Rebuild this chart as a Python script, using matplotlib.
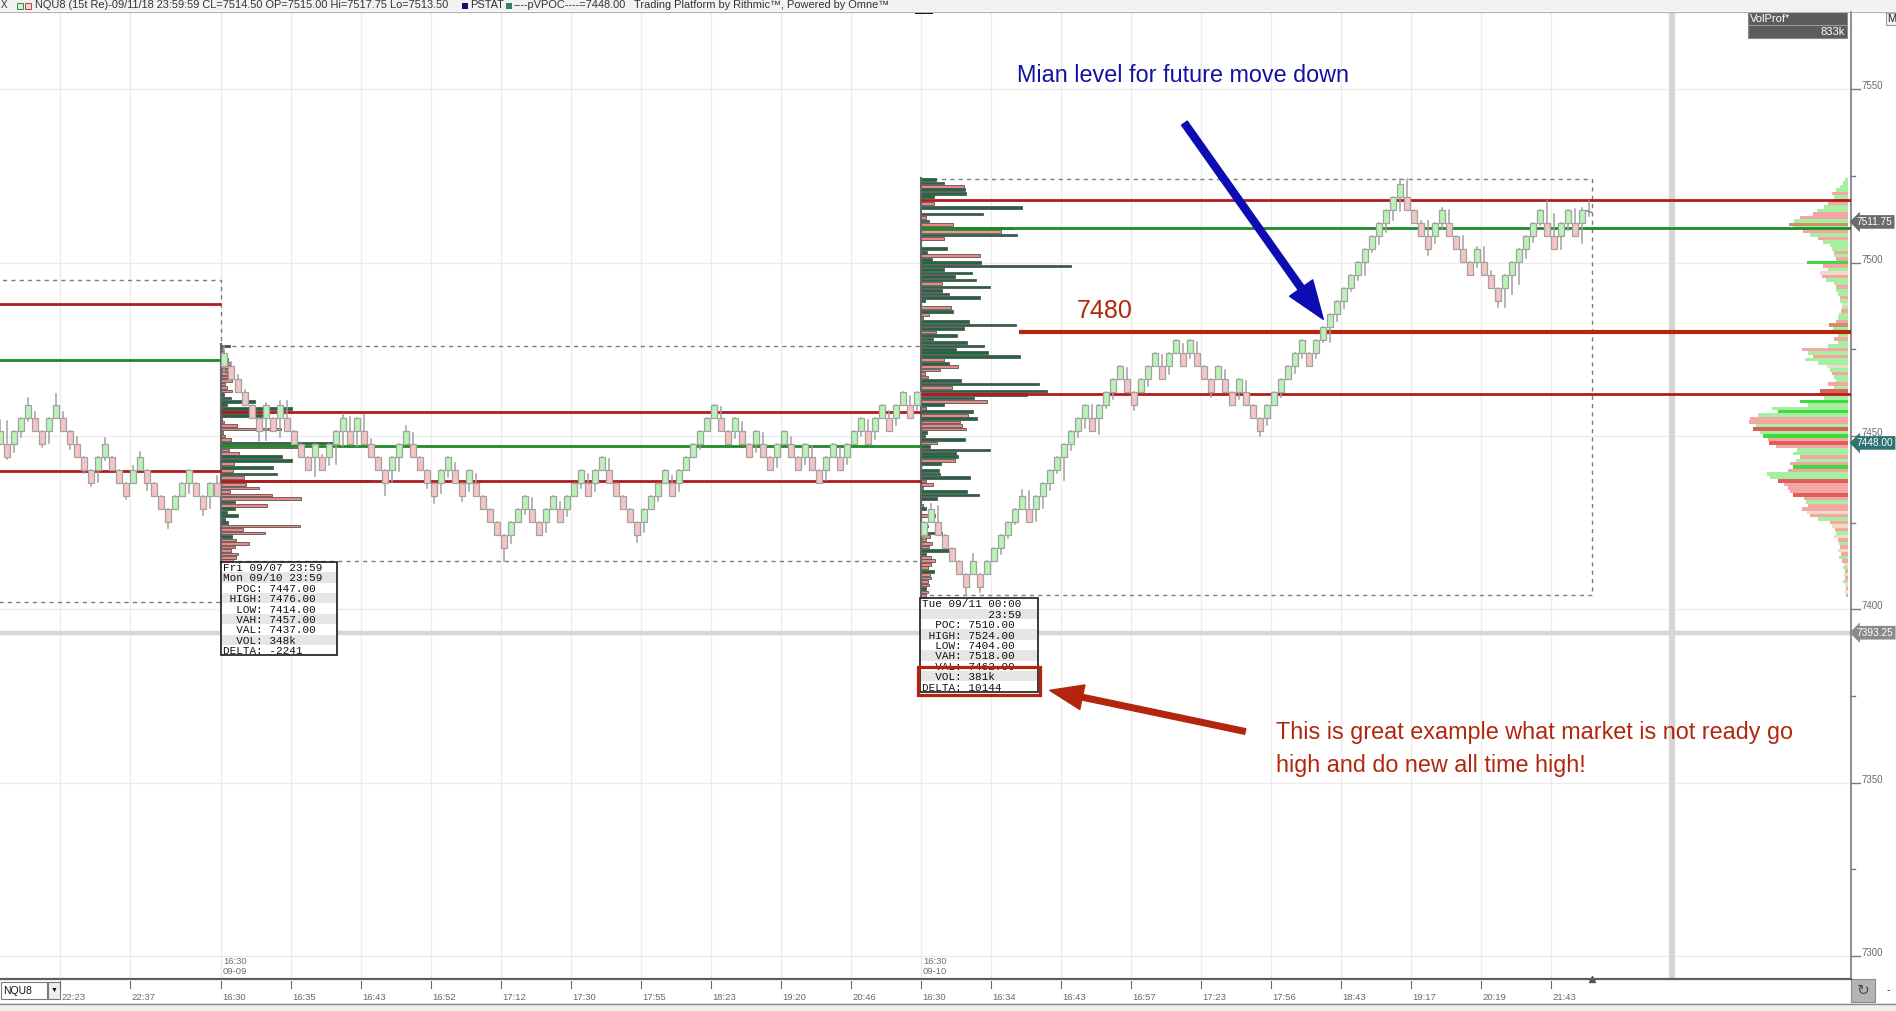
import numpy as np
import matplotlib.pyplot as plt
from matplotlib.patches import Rectangle, FancyArrowPatch

plt.rcParams['font.family'] = ['Liberation Sans', 'DejaVu Sans']

W, H = 1896, 1011
PLOT_RIGHT = 1851          # pixel x of the price scale
PLOT_TOP, PLOT_BOTTOM = 12, 979

# ---------------- data ----------------
BASE = 7447.75             # renko grid reference price
BRICK = 3.75               # 15 ticks per brick

# time scale (bar index -> label)
tick_pos = [-23, -13, 0, 10, 20, 30, 40, 50, 60, 70, 80, 90,
            100, 110, 120, 130, 140, 150, 160, 170, 180, 190]
tick_lbl = ['22:23', '22:37', '16:30', '16:35', '16:43', '16:52', '17:12', '17:30', '17:55', '18:23', '19:20', '20:46',
            '16:30', '16:34', '16:43', '16:57', '17:23', '17:56', '18:43', '19:17', '20:19', '21:43']
price_ticks = [7300, 7350, 7400, 7450, 7500, 7550]

# session 0 (tail only), bars -32..-1 : brick bottom level, colour, wicks (points)
s0_levels = [0, -1, 0, 1, 2, 1, 0, 1, 2, 1,
             0, -1, -2, -3, -2, -1, -2, -3, -4, -3,
             -2, -3, -4, -5, -6, -5, -4, -3, -4, -5,
             -4, -4]
s0_colors = "grgggrrggr" + "rrrrggrrrg" + "grrrrgggrr" + "gr"
s0_wick_up = [3.2, 6.5, 0, 0, 1.9, 1.6, 0, 0, 3.1, 1.6,
              0, 2.0, 0, 0, 0, 1.6, 0, 0, 0, 1.0,
              1.5, 0, 0, 0, 0, 0, 0, 0, 0, 0,
              0, 2.0]
s0_wick_dn = [0, 0.7, 2.4, 1.7, 0.8, 0, 1.0, 3.5, 0, 0,
              1.5, 0, 1.0, 0.8, 3.5, 1.0, 0, 0, 1.0, 0,
              0, 2.0, 0, 0, 1.7, 0, 0, 3.0, 0, 1.9,
              3.4, 0]

# session 1 (09/07-09/10), bars 0..99
s1_levels = [6, 5, 4, 3, 2, 1, 2, 1, 2, 1,
             0, -1, -2, -1, -2, -1, 0, 1, 0, 1,
             0, -1, -2, -3, -2, -1, 0, -1, -2, -3,
             -4, -3, -2, -3, -4, -3, -4, -5, -6, -7,
             -8, -7, -6, -5, -6, -7, -6, -5, -6, -5,
             -4, -3, -4, -3, -2, -3, -4, -5, -6, -7,
             -6, -5, -4, -3, -4, -3, -2, -1, 0, 1,
             2, 1, 0, 1, 0, -1, 0, -1, -2, -1,
             0, -1, -2, -1, -2, -3, -2, -1, -2, -1,
             0, 1, 0, 1, 2, 1, 2, 3, 2, 3]
s1_colors = ("grrrrrgrgr" + "rrrgrgggrg" + "rrrrgggrrr" + "rggrrgrrrr" +
             "rgggrrggrg" + "ggrggrrrrr" + "ggggrggggg" + "grrgrrgrrg" +
             "grrgrrggrg" + "ggrggrggrg")
s1_wick_up = [2.0, 1.2, 1.0, 0.5, 0, 0, 0.6, 0, 1.0, 4.8,
              0, 0, 0, 0, 0.5, 0, 0, 1.0, 4.1, 0,
              4.5, 1.5, 0, 0, 0, 0, 1.5, 3.0, 0, 0,
              0, 0, 0, 2.0, 0, 0, 2.5, 0, 0, 0,
              0, 0, 0, 0, 3.0, 0, 0, 0, 2.0, 0,
              0, 0, 2.5, 0, 0, 3.0, 0, 0, 0, 0,
              0, 0, 0, 0, 2.0, 0, 0, 0, 0, 0,
              0, 3.0, 0, 0, 2.5, 0, 0, 3.0, 0, 0,
              0, 2.0, 0, 0, 3.0, 0, 0, 0, 2.5, 0,
              0, 0, 3.0, 0, 0, 2.0, 0, 0, 2.5, 0]
s1_wick_dn = [2.4, 0.5, 0, 0, 0, 2.9, 6.5, 0, 5.6, 0,
              0, 0, 0, 5.5, 0, 2.3, 5.8, 4.3, 0, 4.3,
              0, 0, 0, 3.4, 3.6, 4.0, 0, 0, 0, 1.5,
              2.0, 3.0, 2.0, 0, 1.5, 2.5, 0, 0, 0, 0,
              3.75, 2.5, 0, 1.5, 0, 0, 3.0, 0, 0, 2.0,
              0, 1.5, 0, 2.5, 0, 0, 0, 0, 0, 2.0,
              3.0, 0, 1.5, 0, 0, 2.5, 0, 0, 1.5, 0,
              0, 0, 0, 2.0, 0, 0, 2.5, 0, 0, 3.0,
              0, 0, 0, 2.0, 0, 0, 3.0, 0, 0, 2.0,
              0, 1.5, 0, 2.5, 0, 0, 2.0, 0, 0, 1.5]

# session 2 (09/11), bars 100..194
s2_levels = [-7, -6, -7, -8, -9, -10, -11, -10, -11, -10,
             -9, -8, -7, -6, -5, -6, -5, -4, -3, -2,
             -1, 0, 1, 2, 1, 2, 3, 4, 5, 4,
             3, 4, 5, 6, 5, 6, 7, 6, 7, 6,
             5, 4, 5, 4, 3, 4, 3, 2, 1, 2,
             3, 4, 5, 6, 7, 6, 7, 8, 9, 10,
             11, 12, 13, 14, 15, 16, 17, 18, 19, 18,
             17, 16, 15, 16, 17, 16, 15, 14, 13, 14,
             13, 12, 11, 12, 13, 14, 15, 16, 17, 16,
             15, 16, 17, 16, 17]
s2_colors = ("ggrrrrrgrg" + "gggggrgggg" + "ggggrggggr" + "rgggrggrgr" +
             "rrgrrgrrrg" + "gggggrgggg" + "gggggggggr" + "rrrggrrrrg" +
             "rrrggggggr" + "rggrg")
s2_wick_up = [0, 1.4, 4.5, 0, 0, 0, 0, 2.0, 0, 0,
              0, 0, 0, 0, 1.6, 5.0, 0, 0, 0, 0,
              0, 0, 0, 0, 3.8, 0, 0, 0, 0, 3.0,
              0, 0, 0, 0, 3.0, 0, 0, 2.5, 0, 3.0,
              0, 0, 0, 2.5, 0, 0, 3.0, 0, 0, 0,
              0, 0, 0, 0, 0, 0, 0, 0, 0, 0,
              0, 0, 0, 0, 0, 0, 0, 0, 1.25, 5.0,
              0, 0.5, 4.3, 0, 0.4, 3.8, 0, 3.6, 0, 0.6,
              4.3, 1.0, 0, 0, 0, 0, 0, 0, 0, 6.3,
              6.3, 0, 0, 4.0, 0.4]
s2_wick_dn = [1.2, 0, 0, 0, 0, 0, 2.5, 0, 1.5, 0,
              0, 1.7, 1.0, 0.5, 0, 0, 3.4, 3.4, 2.2, 0.8,
              6.7, 1.7, 1.9, 2.9, 0, 4.6, 0.9, 2.0, 0, 0,
              1.5, 0, 2.0, 0, 0, 2.5, 0, 0, 1.5, 0,
              0, 1.5, 0, 0, 0, 2.0, 0, 0, 1.5, 2.0,
              0, 1.5, 0, 2.0, 1.5, 0, 1.5, 0.5, 4.5, 2.0,
              2.0, 0.8, 1.5, 3.8, 1.0, 2.4, 2.7, 2.9, 4.0, 0,
              0, 0, 1.9, 2.0, 1.7, 0, 0, 0, 0, 1.6,
              0, 0, 1.7, 5.5, 5.4, 6.4, 2.6, 1.9, 0.5, 0,
              0, 3.8, 2.0, 0, 5.8]
# last (unfinished) bar from the header
last_open, last_close, last_hi, last_lo = 7515.00, 7514.50, 7517.75, 7513.50

# session levels: VAH, POC, VAL, HIGH, LOW
s0_vah, s0_poc, s0_val, s0_high, s0_low = 7488, 7472, 7440, 7495, 7402
s1_vah, s1_poc, s1_val, s1_high, s1_low = 7457, 7447, 7437, 7476, 7414
s2_vah, s2_poc, s2_val, s2_high, s2_low = 7518, 7510, 7462, 7524, 7404
key_level = 7480
last_price = 7393.25

# session volume profiles (1 pt rows from HIGH downwards), arbitrary volume units
s1_vol = [27, 5, 8, 10, 22, 27, 30, 34, 17, 17,
          32, 12, 17, 32, 9, 30, 102, 17, 212, 97,
          122, 4, 9, 49, 179, 5, 12, 29, 355, 237,
          25, 55, 182, 212, 40, 155, 37, 169, 70, 449,
          74, 115, 27, 152, 239, 42, 137, 43, 17, 50,
          12, 21, 236, 67, 131, 32, 44, 85, 42, 30,
          52, 46, 35]
s1_side = "GkRRRRRRRR" + "RRRRGGGGGG" + "GkRRRkRRGT" + "RRGGRGRGRR" + "RRRRRGRGGG" + "GGRRRGRRRR" + "RRR"
s2_vol = [44, 70, 130, 132, 134, 40, 5, 40, 302, 0,
          185, 15, 25, 97, 275, 240, 287, 70, 0, 0,
          77, 17, 178, 32, 179, 449, 70, 152, 103, 164,
          64, 206, 62, 83, 176, 11, 0, 89, 97, 25,
          7, 143, 284, 130, 44, 107, 37, 137, 188, 104,
          200, 296, 70, 83, 112, 56, 12, 22, 119, 353,
          94, 377, 317, 160, 197, 68, 14, 155, 142, 167,
          118, 122, 134, 19, 11, 131, 49, 27, 206, 104,
          110, 103, 59, 0, 55, 57, 148, 15, 37, 7,
          137, 175, 49, 0, 7, 14, 0, 43, 0, 0,
          22, 0, 62, 27, 15, 34, 25, 85, 15, 29,
          42, 30, 20, 40, 27, 30, 22, 25, 15, 20,
          15]
s2_side = ("GGRGGGkRGk" + "GRGRGTGRkk" + "GGRGGGGGGG" + "RGGGGGkRGR" + "kGGGRGGGGG" +
           "GGRGRRRRGG" + "RGGGRGkGRG" + "RRRGGGRGGG" + "GRGkGGGRRk" + "GGGkkGkRkk" +
           "GkGRRRRGGR" + "RRRGRRRRGR" + "R")
S_VOL_SCALE = 21.0          # volume units per bar width

# composite profile at the right edge (1 pt rows from 7524 down, pixels)
comp_top = 7524
comp_len = [3, 5, 8, 12, 16, 14, 16, 20, 24, 31,
            35, 48, 54, 59, 55, 45, 38, 30, 25, 18,
            16, 14, 14, 12, 41, 25, 20, 28, 26, 22,
            14, 12, 12, 10, 8, 8, 6, 6, 7, 9,
            10, 12, 19, 15, 12, 10, 14, 10, 20, 46,
            40, 35, 43, 30, 21, 18, 16, 14, 12, 20,
            14, 28, 30, 24, 48, 40, 76, 70, 90, 98,
            99, 92, 95, 88, 85, 80, 79, 72, 51, 55,
            48, 52, 58, 55, 60, 81, 78, 70, 64, 60,
            58, 55, 44, 42, 40, 46, 41, 38, 30, 18,
            16, 13, 12, 14, 10, 9, 8, 10, 7, 9,
            6, 4, 5, 3, 4, 3, 5, 3, 2, 3,
            2]
comp_col = ("ggggrgorgg" + "rrgogrgrgg" + "grgrGrgbrg" + "grggrgbgrg" + "grogggrggr" +
            "grggbgrggr" + "gRggGggGgr" + "rgRgGrRrgg" + "rgrGrggRrr" + "rRrgrrbrgr" +
            "brgbrgrbrg" + "rbgrbrgbrbr")

# info boxes
s1_info = ["Fri 09/07 23:59", "Mon 09/10 23:59", "  POC: 7447.00", " HIGH: 7476.00",
           "  LOW: 7414.00", "  VAH: 7457.00", "  VAL: 7437.00", "  VOL: 348k", "DELTA: -2241"]
s2_info = ["Tue 09/11 00:00", "          23:59", "  POC: 7510.00", " HIGH: 7524.00",
           "  LOW: 7404.00", "  VAH: 7518.00", "  VAL: 7462.00", "  VOL: 381k", "DELTA: 10144"]

# ---------------- styling ----------------
RED_LINE = '#b01c1c'
GRN_LINE = '#1f8a26'
C_UP, C_DN, C_EDGE, C_WICK = '#b9f3b6', '#f7c4c4', '#a2a2a2', '#a0a0a0'
PROF = {'G': '#1d6a40', 'R': '#ee8682', 'T': '#d6a57a', 'k': '#8a8a8a'}
COMP = {'g': '#a6eea0', 'G': '#3edb3e', 'r': '#f4a6a4', 'R': '#e05e5a', 'b': '#eddcc6', 'o': '#cf8f6a'}
ANN_RED = '#b3260d'
ANN_BLUE = '#12129e'


def fx(px):
    return px / W


def fy(py):
    return 1 - py / H


fig = plt.figure(figsize=(W / 100, H / 100), dpi=100)
ax = fig.add_axes([0, fy(PLOT_BOTTOM), PLOT_RIGHT / W, (PLOT_BOTTOM - PLOT_TOP) / H])
ax.set_xlim(-221 / 7, (PLOT_RIGHT - 221) / 7)
ax.set_ylim(7293.37, 7572.3)
for s in ax.spines.values():
    s.set_visible(False)
ax.set_xticks([])
ax.set_yticks([])

# grid
for t in tick_pos:
    ax.axvline(t, color='#ececec', lw=1, zorder=0)
for p in price_ticks:
    ax.axhline(p, color='#ececec', lw=1, zorder=0)

# thick grey markers (last price line and a vertical separator)
ax.axhline(last_price, color='#d6d6d6', lw=3.2, zorder=1)
ax.axvline(207.3, color='#d6d6d6', lw=4.5, zorder=1)


def session_box(x0, x1, lo, hi):
    ax.plot([x0, x1, x1, x0, x0], [lo, lo, hi, hi, lo], color='#7c7c7c', lw=1,
            ls=(0, (3, 3)), zorder=2)


def level(x0, x1, p, c, lw=2.0):
    ax.plot([x0, x1], [p, p], color=c, lw=lw, zorder=4, solid_capstyle='butt')


def profile(x0, top, vols, sides):
    prices = top - np.arange(len(vols))
    ax.barh(prices, np.array(vols) / S_VOL_SCALE, left=x0, height=0.78,
            color=[PROF[c] for c in sides], edgecolor='#555555', lw=0.6, zorder=3)
    ax.plot([x0, x0], [top - len(vols) + 0.5, top + 0.5], color='#666666', lw=1.5, zorder=3)


def candles(x0, levels, colors, wup, wdn):
    for i, (lv, c) in enumerate(zip(levels, colors)):
        x = x0 + i + 0.43
        lo = BASE + lv * BRICK
        hi = lo + BRICK
        ax.plot([x, x], [lo - wdn[i], hi + wup[i]], color=C_WICK, lw=1.1, zorder=6)
        ax.add_patch(Rectangle((x - 0.36, lo), 0.72, BRICK, fc=C_UP if c == 'g' else C_DN,
                               ec=C_EDGE, lw=0.9, zorder=7))


# session boxes and value-area lines
session_box(-40, 0, s0_low, s0_high)
session_box(0, 100, s1_low, s1_high)
session_box(100, 195.9, s2_low, s2_high)
xr = (PLOT_RIGHT - 221) / 7
level(-40, 0, s0_vah, RED_LINE)
level(-40, 0, s0_poc, GRN_LINE)
level(-40, 0, s0_val, RED_LINE)
level(0, 100, s1_vah, RED_LINE)
level(0, 100, s1_poc, GRN_LINE)
level(0, 100, s1_val, RED_LINE)
level(100, xr, s2_vah, RED_LINE)
level(100, xr, s2_poc, GRN_LINE)
level(100, xr, s2_val, RED_LINE)
level(114, xr, key_level, '#b4260e', lw=3.0)

# profiles
assert len(s1_vol) == len(s1_side) == s1_high - s1_low + 1
assert len(s2_vol) == len(s2_side) == s2_high - s2_low + 1
assert len(s1_levels) == len(s1_colors) == 100 and len(s2_levels) == len(s2_colors) == 95
profile(0, s1_high, s1_vol, s1_side)
profile(100, s2_high, s2_vol, s2_side)

comp_prices = comp_top - np.arange(len(comp_len))
x_comp = (1848 - 221) / 7
ax.barh(comp_prices, -np.array(comp_len) / 7, left=x_comp, height=1.0,
        color=[COMP[c] for c in comp_col], lw=0, zorder=3)

# candles
candles(-32, s0_levels, s0_colors, s0_wick_up, s0_wick_dn)
candles(0, s1_levels, s1_colors, s1_wick_up, s1_wick_dn)
candles(100, s2_levels, s2_colors, s2_wick_up, s2_wick_dn)
xl = 195 + 0.43
ax.plot([xl, xl], [last_lo, last_hi], color=C_WICK, lw=1.1, zorder=6)
ax.plot([xl - 0.36, xl + 0.36], [last_open, last_close], color='#909090', lw=1.2, zorder=7)


def info_box(x0, top, lines, width):
    row = 3.0
    for i, t in enumerate(lines):
        y = top - (i + 1) * row
        ax.add_patch(Rectangle((x0, y), width, row, fc='#ffffff' if i % 2 == 0 else '#e6e6e6',
                               ec='none', zorder=9))
        ax.text(x0 + 0.35, y + row / 2, t, family=['Liberation Mono', 'DejaVu Sans Mono'],
                fontsize=7.9, va='center_baseline', ha='left', color='#111111', zorder=10)
    ax.add_patch(Rectangle((x0, top - len(lines) * row), width, len(lines) * row, fill=False,
                           ec='#1a1a1a', lw=1.2, zorder=10))
    return top - len(lines) * row


info_box(0, s1_low - 0.3, s1_info, 16.6)
b2 = info_box(99.85, s2_low - 0.8, s2_info, 16.85)
ax.add_patch(Rectangle((99.6, b2 - 1.0), 17.35, 8.3, fill=False, ec=ANN_RED, lw=2.3, zorder=11))

# annotations
ax.text(113.7, 7554.1, "Mian level for future move down", color=ANN_BLUE, fontsize=16.8,
        va='center', ha='left', zorder=12)
ax.add_patch(FancyArrowPatch((137.4, 7540.9), (157.7, 7483.0),
                             arrowstyle='simple,head_width=1.7,head_length=2.3,tail_width=0.42',
                             mutation_scale=12, color='#0c0cb2', zorder=12))
ax.text(122.3, 7484.1, "7480", color=ANN_RED, fontsize=18, va='baseline', ha='left', zorder=12)
ax.text(150.7, 7364.4, "This is great example what market is not ready go", color=ANN_RED,
        fontsize=16.8, va='center', ha='left', zorder=12)
ax.text(150.7, 7355.0, "high and do new all time high!", color=ANN_RED,
        fontsize=16.8, va='center', ha='left', zorder=12)
ax.add_patch(FancyArrowPatch((146.7, 7364.6), (118.0, 7376.8),
                             arrowstyle='simple,head_width=1.5,head_length=2.0,tail_width=0.34',
                             mutation_scale=12, color=ANN_RED, zorder=12))

# session start stamps at the bottom of the plot
for xs, d in [(0, '09-09'), (100, '09-10')]:
    fig.text(fx(221 + 7 * xs + 2), fy(962), '16:30', fontsize=6.8, color='#707070', va='center')
    fig.text(fx(221 + 7 * xs + 2), fy(972), d, fontsize=6.8, color='#707070', va='center')

# little markers on the plot edges
ax.plot([195.9], [7293.37], marker='^', ms=5, color='#555555', clip_on=False, zorder=12)
fig.add_artist(Rectangle((fx(915), fy(14)), 18 / W, 2.5 / H, transform=fig.transFigure,
                         fc='#111111', ec='none'))

# ---------------- price scale ----------------
yax = ax.get_yaxis_transform()
ax.plot([1, 1], [7293.37, 7572.3], transform=yax, color='#7a7a7a', lw=1.2, clip_on=False)
for p in price_ticks:
    ax.plot([1, 1 + 9 / PLOT_RIGHT], [p, p], transform=yax, color='#7a7a7a', lw=1, clip_on=False)
    ax.text(1 + 10 / PLOT_RIGHT, p, str(p), transform=yax, fontsize=7, color='#6a6a6a',
            va='baseline', ha='left', clip_on=False)
for p in price_ticks[:-1]:
    ax.plot([1, 1 + 4 / PLOT_RIGHT], [p + 25, p + 25], transform=yax, color='#7a7a7a', lw=1,
            clip_on=False)

for p, txt, fc in [(7511.75, '7511.75', '#6c6c6c'), (7448.00, '7448.00', '#2f7272'),
                   (last_price, '7393.25', '#8a8a8a')]:
    ax.annotate(txt, xy=(1, p), xycoords=yax, xytext=(4.3, 0), textcoords='offset points',
                fontsize=7.3, color='white', va='center', ha='left', annotation_clip=False,
                bbox=dict(boxstyle='larrow,pad=0.18', fc=fc, ec='none'))

# VolProf box
fig.add_artist(Rectangle((fx(1748), fy(38)), 99 / W, 26 / H, transform=fig.transFigure,
                         fc='#5c5c5c', ec='#8a8a8a', lw=0.8))
fig.add_artist(plt.Line2D([fx(1748), fx(1847)], [fy(25), fy(25)], color='#9a9a9a', lw=0.8))
fig.text(fx(1750), fy(19), 'VolProf*', fontsize=8, color='white', va='center')
fig.text(fx(1845), fy(32), '833k', fontsize=8, color='white', va='center', ha='right')
fig.add_artist(Rectangle((fx(1886), fy(25)), 12 / W, 12 / H, transform=fig.transFigure,
                         fc='#f2f2f2', ec='#9a9a9a', lw=0.8))
fig.text(fx(1887), fy(19), 'M', fontsize=8, color='#222222', va='center')

# ---------------- header ----------------
fig.add_artist(Rectangle((0, fy(11)), 1, 11 / H, transform=fig.transFigure, fc='#f2f2f2', ec='none'))
fig.add_artist(plt.Line2D([0, 1], [fy(11.5), fy(11.5)], color='#b0b0b0', lw=0.8))
fig.text(fx(1), fy(5.5), 'X', fontsize=7, color='#333333', va='center')
fig.add_artist(Rectangle((fx(17), fy(9)), 6 / W, 6 / H, transform=fig.transFigure, fc='#c8f5c8', ec='#3a8a3a', lw=0.7))
fig.add_artist(Rectangle((fx(25), fy(9)), 6 / W, 6 / H, transform=fig.transFigure, fc='#f8d0d0', ec='#c04040', lw=0.7))
fig.text(fx(35), fy(5.5), 'NQU8 (15t Re)-09/11/18 23:59:59 CL=7514.50 OP=7515.00 Hi=7517.75 Lo=7513.50',
         fontsize=7.9, color='#333333', va='center')
fig.add_artist(Rectangle((fx(462), fy(9)), 6 / W, 6 / H, transform=fig.transFigure, fc='#10107a', ec='none'))
fig.text(fx(470), fy(5.5), 'PSTAT', fontsize=7.9, color='#333333', va='center')
fig.add_artist(Rectangle((fx(506), fy(9)), 6 / W, 6 / H, transform=fig.transFigure, fc='#3a7a70', ec='none'))
fig.text(fx(514), fy(5.5), '----pVPOC----=7448.00', fontsize=7.9, color='#333333', va='center')
fig.text(fx(634), fy(5.5), 'Trading Platform by Rithmic\u2122, Powered by Omne\u2122', fontsize=7.9,
         color='#333333', va='center')

# ---------------- time scale band ----------------
fig.add_artist(plt.Line2D([0, fx(PLOT_RIGHT)], [fy(979), fy(979)], color='#5e5e5e', lw=1.6))
fig.add_artist(Rectangle((0, fy(1011)), 1, 8 / H, transform=fig.transFigure, fc='#f0f0f0', ec='none'))
fig.add_artist(plt.Line2D([0, 1], [fy(1003.5), fy(1003.5)], color='#8a8a8a', lw=1))
for t, lab in zip(tick_pos, tick_lbl):
    px = 221 + 7 * t
    fig.add_artist(plt.Line2D([fx(px), fx(px)], [fy(981), fy(988)], color='#6a6a6a', lw=0.8))
    fig.text(fx(px + 1), fy(997.5), lab, fontsize=6.8, color='#6a6a6a', va='center', ha='left')

# symbol selector
fig.add_artist(Rectangle((fx(1), fy(999)), 46 / W, 17 / H, transform=fig.transFigure, fc='white', ec='#7a7a7a', lw=0.8))
fig.text(fx(3), fy(990.5), 'NQU8', fontsize=7.5, color='#111111', va='center')
fig.add_artist(Rectangle((fx(48), fy(999)), 12 / W, 17 / H, transform=fig.transFigure, fc='#ededed', ec='#7a7a7a', lw=0.8))
fig.text(fx(54), fy(990.5), '\u25bc', fontsize=5, color='#111111', va='center', ha='center')

# refresh button
fig.add_artist(Rectangle((fx(PLOT_RIGHT), fy(1002)), 24 / W, 23 / H, transform=fig.transFigure, fc='#b4b4b4', ec='#8a8a8a', lw=0.8))
fig.text(fx(1863), fy(990.5), '\u21bb', fontsize=11, color='#4a4a4a', va='center', ha='center')
fig.text(fx(1888), fy(990.5), '-', fontsize=8, color='#222222', va='center', ha='center')

fig.savefig('out.png', dpi=100)
